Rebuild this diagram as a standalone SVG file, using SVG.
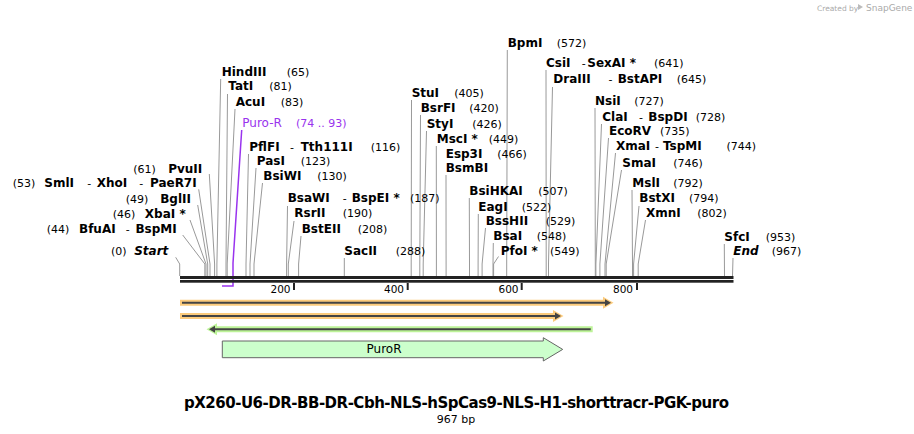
<svg xmlns="http://www.w3.org/2000/svg" width="914" height="434" viewBox="0 0 914 434">
<style>
text{font-family:"DejaVu Sans","Verdana",sans-serif;fill:#000}
.n{font-size:12px;font-weight:bold}
.i{font-size:12px;font-weight:bold;font-style:italic}
.p{font-size:11px}
.d{font-size:11px}
.t{font-size:10.5px;text-anchor:end}
.c{fill:none;stroke:#999;stroke-width:1}
.pu{fill:#9933ee}
.puc{fill:none;stroke:#9933ee;stroke-width:1.5}
.hz{fill:#fccb7c}
.hg{fill:#bdf398}
.dk{stroke:#444;stroke-width:2}
.dkf{fill:#444}
</style>
<rect width="914" height="434" fill="#fff"/>
<g id="credit">
<text x="817" y="11" style="font-size:7.5px;fill:#aaa">Created by</text>
<path d="M858 4 l5 3 l-5 3 z" fill="#bbb"/>
<text x="866" y="11" style="font-size:9px;fill:#aaa">SnapGene</text>
</g>
<g id="connectors">
<polyline class="c" points="175.7,257.3 179.7,264 179.7,276"/>
<polyline class="c" points="182.7,235 204.85,264 204.85,276"/>
<polyline class="c" points="190,220 206,264 206,276"/>
<polyline class="c" points="197.7,205 207.7,264 207.7,276"/>
<polyline class="c" points="198.7,189.3 210,264 210,276"/>
<polyline class="c" points="209.3,174 214.6,264 214.6,276"/>
<polyline class="c" points="220.7,79 216.9,264 216.9,276"/>
<polyline class="c" points="227.5,94 226,264 226,276"/>
<polyline class="c" points="235,109 227.2,264 227.2,276"/>
<polyline class="c" points="248.5,154 246,264 246,276"/>
<polyline class="c" points="256,168 250,264 250,276"/>
<polyline class="c" points="262.5,183 254,264 254,276"/>
<polyline class="c" points="287.5,206 286.6,264 286.6,276"/>
<polyline class="c" points="294,221 288.3,264 288.3,276"/>
<polyline class="c" points="301,236 298.6,264 298.6,276"/>
<polyline class="c" points="344.3,258 344.3,276"/>
<polyline class="c" points="411.5,100 411.2,264 411.2,276"/>
<polyline class="c" points="420.5,115 419.8,264 419.8,276"/>
<polyline class="c" points="426.5,131 423.2,264 423.2,276"/>
<polyline class="c" points="436.3,146 436.4,264 436.4,276"/>
<polyline class="c" points="446,175 446.1,264 446.1,276"/>
<polyline class="c" points="469.3,198 469.5,264 469.5,276"/>
<polyline class="c" points="478.3,214 478.1,264 478.1,276"/>
<polyline class="c" points="485.5,228 482.1,264 482.1,276"/>
<polyline class="c" points="493.3,243 493,264 493,276"/>
<polyline class="c" points="498.5,256.5 493.6,264 493.6,276"/>
<polyline class="c" points="507.3,50 506.7,264 506.7,276"/>
<polyline class="c" points="546,70 546.2,264 546.2,276"/>
<polyline class="c" points="552.5,87 548.5,264 548.5,276"/>
<polyline class="c" points="595,108 595.3,264 595.3,276"/>
<polyline class="c" points="601.5,124 595.9,264 595.9,276"/>
<polyline class="c" points="608.5,138 599.9,264 599.9,276"/>
<polyline class="c" points="615.5,153 605,264 605,276"/>
<polyline class="c" points="621.5,170 606.2,264 606.2,276"/>
<polyline class="c" points="632,190 632.5,264 632.5,276"/>
<polyline class="c" points="639,206 633.6,264 633.6,276"/>
<polyline class="c" points="645.5,220 638.2,264 638.2,276"/>
<polyline class="c" points="724.3,244 724.5,276"/>
<polyline class="c" points="733,258 732.5,276"/>
<polyline class="puc" points="241.7,130 233,263 233,286 222,286"/>
</g>
<g id="ruler">
<rect x="180" y="276" width="553.5" height="3" fill="#222"/>
<rect x="180" y="280" width="553.5" height="2.7" fill="#222"/>
<rect x="293" y="283" width="2" height="7" fill="#222"/>
<rect x="406.7" y="283" width="2" height="7" fill="#222"/>
<rect x="520.7" y="283" width="2" height="7" fill="#222"/>
<rect x="636" y="283" width="2" height="7" fill="#222"/>
<text class="t" x="290.5" y="292.7">200</text>
<text class="t" x="404" y="292.7">400</text>
<text class="t" x="518.5" y="292.7">600</text>
<text class="t" x="633" y="292.7">800</text>
</g>
<g id="left-labels">
<g id="start"><text class="p" x="111" y="255.3">(0)</text><text class="i" x="168.3" y="255.3" text-anchor="end">Start</text></g>
<g id="bfuai"><text class="p" x="46.7" y="232.7">(44)</text><text class="n" x="79" y="232.7">BfuAI</text><text class="d" x="125.7" y="232.7">-</text><text class="n" x="176.7" y="232.7" text-anchor="end">BspMI</text></g>
<g id="xbai"><text class="p" x="112.7" y="217.7">(46)</text><text class="n" x="185.7" y="217.7" text-anchor="end">XbaI *</text></g>
<g id="bglii"><text class="p" x="125.7" y="202.7">(49)</text><text class="n" x="191" y="202.7" text-anchor="end">BglII</text></g>
<g id="smli"><text class="p" x="12.7" y="187.3">(53)</text><text class="n" x="44.3" y="187.3">SmlI</text><text class="d" x="87.3" y="187.3">-</text><text class="n" x="96.7" y="187.3">XhoI</text><text class="d" x="139.3" y="187.3">-</text><text class="n" x="196.7" y="187.3" text-anchor="end">PaeR7I</text></g>
<g id="pvuii"><text class="p" x="133.3" y="172.7">(61)</text><text class="n" x="202.3" y="172.7" text-anchor="end">PvuII</text></g>
</g>
<g id="right-labels">
<g id="hindiii"><text class="n" x="221.7" y="75.7">HindIII</text><text class="p" x="286.7" y="75.7">(65)</text></g>
<g id="tati"><text class="n" x="228.3" y="90">TatI</text><text class="p" x="269.3" y="90">(81)</text></g>
<g id="acui"><text class="n" x="235.7" y="105.7">AcuI</text><text class="p" x="280.7" y="105.7">(83)</text></g>
<g id="puror-label"><text class="pu" style="font-size:12px" x="242.3" y="126.7">Puro-R</text><text class="pu" style="font-size:11px" x="296" y="126.7">(74 .. 93)</text></g>
<g id="pflfi"><text class="n" x="249.3" y="150.7">PflFI</text><text class="d" x="290" y="150.7">-</text><text class="n" x="300.7" y="150.7">Tth111I</text><text class="p" x="370.7" y="150.7">(116)</text></g>
<g id="pasi"><text class="n" x="256.7" y="165">PasI</text><text class="p" x="300.7" y="165">(123)</text></g>
<g id="bsiwi"><text class="n" x="263.3" y="180">BsiWI</text><text class="p" x="317.3" y="180">(130)</text></g>
<g id="bsawi"><text class="n" x="287.7" y="202.3">BsaWI</text><text class="d" x="342.7" y="202.3">-</text><text class="n" x="351.7" y="202.3">BspEI *</text><text class="p" x="410" y="202.3">(187)</text></g>
<g id="rsrii"><text class="n" x="294.3" y="217.3">RsrII</text><text class="p" x="342.7" y="217.3">(190)</text></g>
<g id="bsteii"><text class="n" x="301.7" y="232.7">BstEII</text><text class="p" x="357.7" y="232.7">(208)</text></g>
<g id="sacii"><text class="n" x="344.3" y="255">SacII</text><text class="p" x="395.7" y="255">(288)</text></g>
<g id="bpmi"><text class="n" x="507.7" y="46.7">BpmI</text><text class="p" x="556.7" y="46.7">(572)</text></g>
<g id="stui"><text class="n" x="411.7" y="96.7">StuI</text><text class="p" x="454.3" y="96.7">(405)</text></g>
<g id="bsrfi"><text class="n" x="420.7" y="112.3">BsrFI</text><text class="p" x="469.3" y="112.3">(420)</text></g>
<g id="styi"><text class="n" x="426.7" y="127.7">StyI</text><text class="p" x="472.3" y="127.7">(426)</text></g>
<g id="msci"><text class="n" x="436.7" y="142.7">MscI *</text><text class="p" x="488.7" y="142.7">(449)</text></g>
<g id="esp3i"><text class="n" x="445.7" y="157.7">Esp3I</text><text class="p" x="497.3" y="157.7">(466)</text><text class="n" x="445.7" y="171.7">BsmBI</text></g>
<g id="bsihkai"><text class="n" x="469.3" y="195">BsiHKAI</text><text class="p" x="538.3" y="195">(507)</text></g>
<g id="eagi"><text class="n" x="478.3" y="210.7">EagI</text><text class="p" x="521.7" y="210.7">(522)</text></g>
<g id="bsshii"><text class="n" x="485.7" y="225">BssHII</text><text class="p" x="545.7" y="225">(529)</text></g>
<g id="bsai"><text class="n" x="493.3" y="240">BsaI</text><text class="p" x="536.7" y="240">(548)</text></g>
<g id="pfoi"><text class="n" x="500.7" y="255">PfoI *</text><text class="p" x="550" y="255">(549)</text></g>
<g id="csii"><text class="n" x="546" y="66.7">CsiI</text><text class="d" x="581.7" y="66.7">-</text><text class="n" x="587.3" y="66.7">SexAI *</text><text class="p" x="654" y="66.7">(641)</text></g>
<g id="draiii"><text class="n" x="553.3" y="83.3">DraIII</text><text class="d" x="608.5" y="83.3">-</text><text class="n" x="617.7" y="83.3">BstAPI</text><text class="p" x="676.7" y="83.3">(645)</text></g>
<g id="nsii"><text class="n" x="595" y="105">NsiI</text><text class="p" x="634.3" y="105">(727)</text></g>
<g id="clai"><text class="n" x="602.3" y="120.7">ClaI</text><text class="d" x="639" y="120.7">-</text><text class="n" x="648.3" y="120.7">BspDI</text><text class="p" x="695.7" y="120.7">(728)</text></g>
<g id="ecorv"><text class="n" x="609" y="135">EcoRV</text><text class="p" x="660" y="135">(735)</text></g>
<g id="xmai"><text class="n" x="616" y="150">XmaI</text><text class="d" x="655" y="150">-</text><text class="n" x="663" y="150">TspMI</text><text class="p" x="726.5" y="150">(744)</text></g>
<g id="smai"><text class="n" x="622.3" y="166.7">SmaI</text><text class="p" x="673.3" y="166.7">(746)</text></g>
<g id="msli"><text class="n" x="632.3" y="186.7">MslI</text><text class="p" x="673.3" y="186.7">(792)</text></g>
<g id="bstxi"><text class="n" x="639.3" y="202.3">BstXI</text><text class="p" x="689" y="202.3">(794)</text></g>
<g id="xmni"><text class="n" x="646" y="216.7">XmnI</text><text class="p" x="697.3" y="216.7">(802)</text></g>
<g id="sfci"><text class="n" x="724.3" y="240.7">SfcI</text><text class="p" x="765.7" y="240.7">(953)</text></g>
<g id="end"><text class="i" x="733.3" y="255">End</text><text class="p" x="771.7" y="255">(967)</text></g>
</g>
<g id="primer1">
<path class="hz" d="M180 299.7 H603 V296.7 L613.5 302.7 L603 308.7 V305.7 H180 Z"/>
<line class="dk" x1="182" y1="302.7" x2="606" y2="302.7"/>
<path class="dkf" d="M605 299.2 L611 302.7 L605 306.2 Z"/>
</g>
<g id="primer2">
<path class="hz" d="M180 313 H553 V310 L563.5 316 L553 322 V319 H180 Z"/>
<line class="dk" x1="182" y1="316" x2="556" y2="316"/>
<path class="dkf" d="M555 312.5 L561 316 L555 319.5 Z"/>
</g>
<g id="primer3">
<path class="hg" d="M592.7 326.2 H217 V323.2 L206.5 329.2 L217 335.2 V332.2 H592.7 Z"/>
<line class="dk" x1="214" y1="329.2" x2="590.7" y2="329.2"/>
<path class="dkf" d="M215 325.7 L209 329.2 L215 332.7 Z"/>
</g>
<g id="puror">
<path d="M222.3 341 H543.3 V337.7 L562.7 349.4 L543.3 361 V357.7 H222.3 Z" fill="#ccffcc" stroke="#666" stroke-width="1"/>
<text x="384" y="352.7" style="font-size:12px" text-anchor="middle">PuroR</text>
</g>
<g id="title">
<text x="456.5" y="408.3" text-anchor="middle" style="font-size:15px;font-weight:bold" textLength="545">pX260-U6-DR-BB-DR-Cbh-NLS-hSpCas9-NLS-H1-shorttracr-PGK-puro</text>
<text x="456" y="422.5" text-anchor="middle" style="font-size:11px">967 bp</text>
</g>
</svg>
